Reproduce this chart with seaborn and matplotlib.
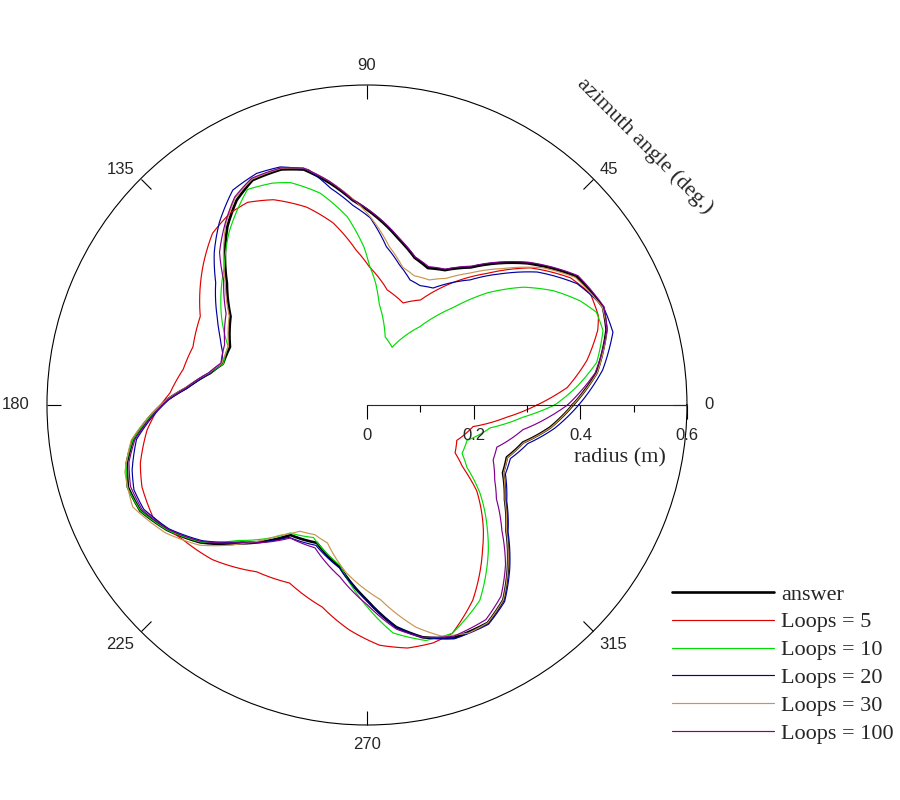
import numpy as np
import pandas as pd
import matplotlib
matplotlib.use("Agg")
import matplotlib.pyplot as plt
import seaborn as sns

# azimuth (deg) and radius (m)
answer_deg = [0, 8, 17.5, 22.5, 31.5, 41.5, 53, 60, 66, 72, 79, 86, 94, 99.5, 105, 110, 117, 122.5,
              128, 132.5, 139, 147, 157, 164, 168.5, 174.5, 178.5, 183, 188.5, 193.5, 199, 205, 212,
              219.5, 227.5, 239.5, 250, 260.5, 270, 277.5, 283.5, 290.5, 299, 305, 311, 318, 325.5,
              333.5, 339.5, 346.5, 353, 360]
answer_r = [0.386, 0.435, 0.471, 0.479, 0.461, 0.401, 0.323, 0.292, 0.281, 0.290, 0.316, 0.348, 0.385,
            0.422, 0.457, 0.470, 0.473, 0.455, 0.425, 0.394, 0.348, 0.305, 0.279, 0.281, 0.300, 0.339,
            0.375, 0.407, 0.444, 0.463, 0.474, 0.469, 0.442, 0.405, 0.352, 0.283, 0.275, 0.308, 0.366,
            0.420, 0.448, 0.466, 0.467, 0.446, 0.403, 0.352, 0.314, 0.285, 0.280, 0.301, 0.346, 0.386]

loops5_deg = [0, 5, 11.5, 18, 21, 26.5, 32, 40, 47.5, 55, 63, 70.5, 80, 89, 94, 100.5, 107, 114.5,
              120.5, 125.5, 132, 140, 152, 161.5, 169, 176.5, 181.5, 186.5, 194.5, 200, 207.5, 216,
              225, 236.5, 246.5, 257.5, 265.5, 273, 279.5, 285.5, 290.5, 298.5, 308.5, 313, 322, 327,
              331.5, 338.5, 348.5, 355, 360]
loops5_r = [0.319, 0.377, 0.421, 0.455, 0.465, 0.468, 0.450, 0.400, 0.335, 0.280, 0.221, 0.203, 0.219,
            0.259, 0.291, 0.347, 0.388, 0.423, 0.441, 0.442, 0.433, 0.402, 0.354, 0.344, 0.351, 0.370,
            0.394, 0.415, 0.439, 0.449, 0.453, 0.428, 0.410, 0.375, 0.364, 0.388, 0.423, 0.451, 0.462,
            0.463, 0.457, 0.416, 0.348, 0.320, 0.261, 0.214, 0.188, 0.181, 0.203, 0.263, 0.319]

loops10_deg = [0, 5, 10.5, 17.5, 22, 26, 31.5, 37, 43, 48.5, 56, 66.5, 75, 83, 86, 89, 91, 96, 102.5,
               109, 113, 119, 128.5, 136, 149, 157, 164, 168.5, 174.5, 178.5, 183, 188.5, 193.5, 199,
               205, 212, 219.5, 226.5, 239, 248, 260.5, 270, 276.5, 284, 290.5, 300, 310, 314, 322,
               328, 333, 340.5, 349.5, 355.5, 360]
loops10_r = [0.352, 0.395, 0.438, 0.464, 0.464, 0.445, 0.410, 0.367, 0.308, 0.244, 0.177, 0.118, 0.132,
             0.190, 0.230, 0.262, 0.295, 0.355, 0.407, 0.441, 0.452, 0.462, 0.415, 0.372, 0.318, 0.283,
             0.280, 0.300, 0.339, 0.375, 0.407, 0.444, 0.464, 0.475, 0.469, 0.442, 0.404, 0.350, 0.280,
             0.268, 0.305, 0.378, 0.430, 0.455, 0.457, 0.423, 0.354, 0.325, 0.269, 0.221, 0.200, 0.199,
             0.235, 0.293, 0.352]

loops20_deg = [0, 8.5, 16.5, 22.5, 30, 38, 44, 50.5, 60.5, 66, 71, 77, 83, 89, 94, 99.5, 104, 110,
               115.5, 122, 129, 135, 141, 149.5, 155, 160, 164, 168.5, 174.5, 178.5, 183, 188.5,
               195.5, 200, 205, 212, 219.5, 227.5, 239.5, 250, 260.5, 270, 277.5, 283.5, 290.5, 299,
               305, 311, 318, 325.5, 333.5, 339.5, 346.5, 353, 360]
loops20_r = [0.397, 0.447, 0.481, 0.480, 0.455, 0.405, 0.355, 0.304, 0.252, 0.245, 0.248, 0.270, 0.299,
             0.351, 0.375, 0.412, 0.455, 0.475, 0.481, 0.475, 0.440, 0.405, 0.365, 0.326, 0.304, 0.288,
             0.283, 0.300, 0.337, 0.372, 0.402, 0.437, 0.457, 0.465, 0.462, 0.438, 0.400, 0.348, 0.288,
             0.280, 0.310, 0.366, 0.420, 0.448, 0.468, 0.470, 0.450, 0.408, 0.356, 0.318, 0.290, 0.287,
             0.310, 0.355, 0.397]

loops30_deg = [0, 8, 17.5, 22.5, 31.5, 38, 45, 52, 58, 63.5, 70, 75.5, 82, 89, 94, 99.5, 105, 110, 117,
               122.5, 128, 132.5, 139, 147, 157, 164, 168.5, 174.5, 178.5, 183, 188.5, 195.5, 203.5,
               212.5, 220, 228, 236, 242, 248, 254, 263, 274, 282.5, 288, 294, 299, 305, 311, 318,
               325.5, 333.5, 339.5, 346.5, 353, 360]
loops30_r = [0.386, 0.436, 0.472, 0.478, 0.458, 0.418, 0.362, 0.314, 0.280, 0.262, 0.258, 0.267, 0.300,
             0.353, 0.388, 0.425, 0.460, 0.472, 0.475, 0.460, 0.430, 0.398, 0.352, 0.308, 0.282, 0.283,
             0.302, 0.341, 0.376, 0.409, 0.447, 0.471, 0.479, 0.447, 0.409, 0.350, 0.295, 0.268, 0.262,
             0.269, 0.317, 0.366, 0.427, 0.456, 0.468, 0.467, 0.446, 0.403, 0.352, 0.314, 0.286, 0.281,
             0.302, 0.347, 0.386]

loops100_deg = [0, 8, 17.5, 22.5, 31.5, 41.5, 53, 60, 66, 72, 79, 86, 94, 99.5, 105, 110, 117, 122.5,
                128, 134, 139, 147, 153, 157, 164, 168.5, 174.5, 178.5, 183, 188.5, 193.5, 199, 205,
                212, 219.5, 227.5, 240, 250, 261, 270, 277.5, 283.5, 290.5, 299, 305, 311, 317, 324,
                329.5, 336.5, 342, 351, 356, 360]
loops100_r = [0.376, 0.432, 0.472, 0.481, 0.464, 0.404, 0.326, 0.294, 0.284, 0.292, 0.318, 0.350, 0.386,
              0.425, 0.460, 0.473, 0.477, 0.462, 0.432, 0.398, 0.356, 0.315, 0.300, 0.290, 0.285, 0.303,
              0.340, 0.374, 0.404, 0.440, 0.459, 0.469, 0.465, 0.440, 0.402, 0.350, 0.288, 0.285, 0.326,
              0.374, 0.424, 0.448, 0.463, 0.460, 0.438, 0.396, 0.346, 0.300, 0.278, 0.258, 0.256, 0.296,
              0.340, 0.376]

angle_ticks = [0, 45, 90, 135, 180, 225, 270, 315]
radius_ticks = [0, 0.2, 0.4, 0.6]

sns.set_style("white")
plt.rcParams['font.family'] = ['Liberation Serif', 'DejaVu Serif']

fig = plt.figure(figsize=(9, 8), dpi=100)
# circle centre at (367, 405) px, radius 320 px
ax = fig.add_axes([0.0522, 0.09375, 0.7111, 0.8], projection='polar')

series = [
    ("answer", answer_deg, answer_r, "black", 1.9),
    ("Loops = 5", loops5_deg, loops5_r, "#e00000", 0.85),
    ("Loops = 10", loops10_deg, loops10_r, "#00dd00", 0.85),
    ("Loops = 20", loops20_deg, loops20_r, "#0000a0", 0.85),
    ("Loops = 30", loops30_deg, loops30_r, "#c89650", 0.85),
    ("Loops = 100", loops100_deg, loops100_r, "#800090", 0.85),
]
for label, deg, r, color, lw in series:
    df = pd.DataFrame({"theta": np.deg2rad(deg), "r": r})
    sns.lineplot(data=df, x="theta", y="r", sort=False, estimator=None,
                 color=color, lw=lw, label=label, ax=ax)

# let the polar transform draw each segment as an arc in (theta, r)
for line in ax.lines:
    line.get_path()._interpolation_steps = 16

ax.set_ylim(0, 0.6)
ax.set_yticks([])
ax.grid(False)
ax.set_xlabel("")
ax.set_ylabel("")
ax.set_thetagrids(angle_ticks, [""] * len(angle_ticks))
# seaborn's white style switches tick marks off; tick2 is the one on the outer circle
ax.tick_params(axis='x', which='major', bottom=False, top=True, direction='in',
               length=10, width=0.8, color='black')
ax.spines['polar'].set_linewidth(0.8)
ax.spines['polar'].set_color('black')

# angle labels sit just outside the circle, edge-aligned like the original
for a in angle_ticks:
    c, s = np.cos(np.deg2rad(a)), np.sin(np.deg2rad(a))
    if abs(c) > 0.9:
        off = (12.5 * np.sign(c), 0)
        ha, va = ('left' if c > 0 else 'right'), 'center'
    elif abs(s) > 0.9:
        off = (0, 9 * np.sign(s))
        ha, va = 'center', ('bottom' if s > 0 else 'top')
    else:
        off = (4.5 * np.sign(c), 1 if s > 0 else -4)
        ha, va = ('left' if c > 0 else 'right'), ('bottom' if s > 0 else 'top')
    ax.annotate(str(a), xy=(np.deg2rad(a), 0.6), xytext=off, textcoords='offset points',
                ha=ha, va=va, fontsize=12, fontfamily='Liberation Sans', annotation_clip=False)

# radial axis drawn along the 0 deg ray
rax = fig.add_axes([0.4078, 0.49375, 0.3556, 0.0001])
rax.patch.set_alpha(0)
for s in ['top', 'left', 'right']:
    rax.spines[s].set_visible(False)
rax.spines['bottom'].set_linewidth(0.8)
rax.set_xlim(0, 0.6)
rax.set_yticks([])
rax.set_xticks(radius_ticks)
rax.set_xticklabels([f"{v:g}" for v in radius_ticks], fontfamily='Liberation Sans', fontsize=12)
rax.set_xticks([0.1, 0.3, 0.5], minor=True)
rax.tick_params(axis='x', which='both', bottom=True, direction='out', color='black')
rax.tick_params(axis='x', which='major', length=10, width=0.8, pad=6.5)
rax.tick_params(axis='x', which='minor', length=5, width=0.8)

fig.text(620 / 900, 1 - 458 / 800, "radius (m)", ha='center', va='center', fontsize=16)
fig.text(645 / 900, 1 - 146 / 800, "azimuth angle (deg.)", ha='center', va='center',
         rotation=-45, rotation_mode='anchor', fontsize=16)

handles, labels = ax.get_legend_handles_labels()
ax.legend(handles, labels, loc='upper left', bbox_to_anchor=(672 / 900, 1 - 584 / 800),
          bbox_transform=fig.transFigure, frameon=False, fontsize=16, handlelength=4.6,
          handletextpad=0.3, labelspacing=0.33, borderpad=0, borderaxespad=0)

fig.savefig("out.png", dpi=100, facecolor='white')
